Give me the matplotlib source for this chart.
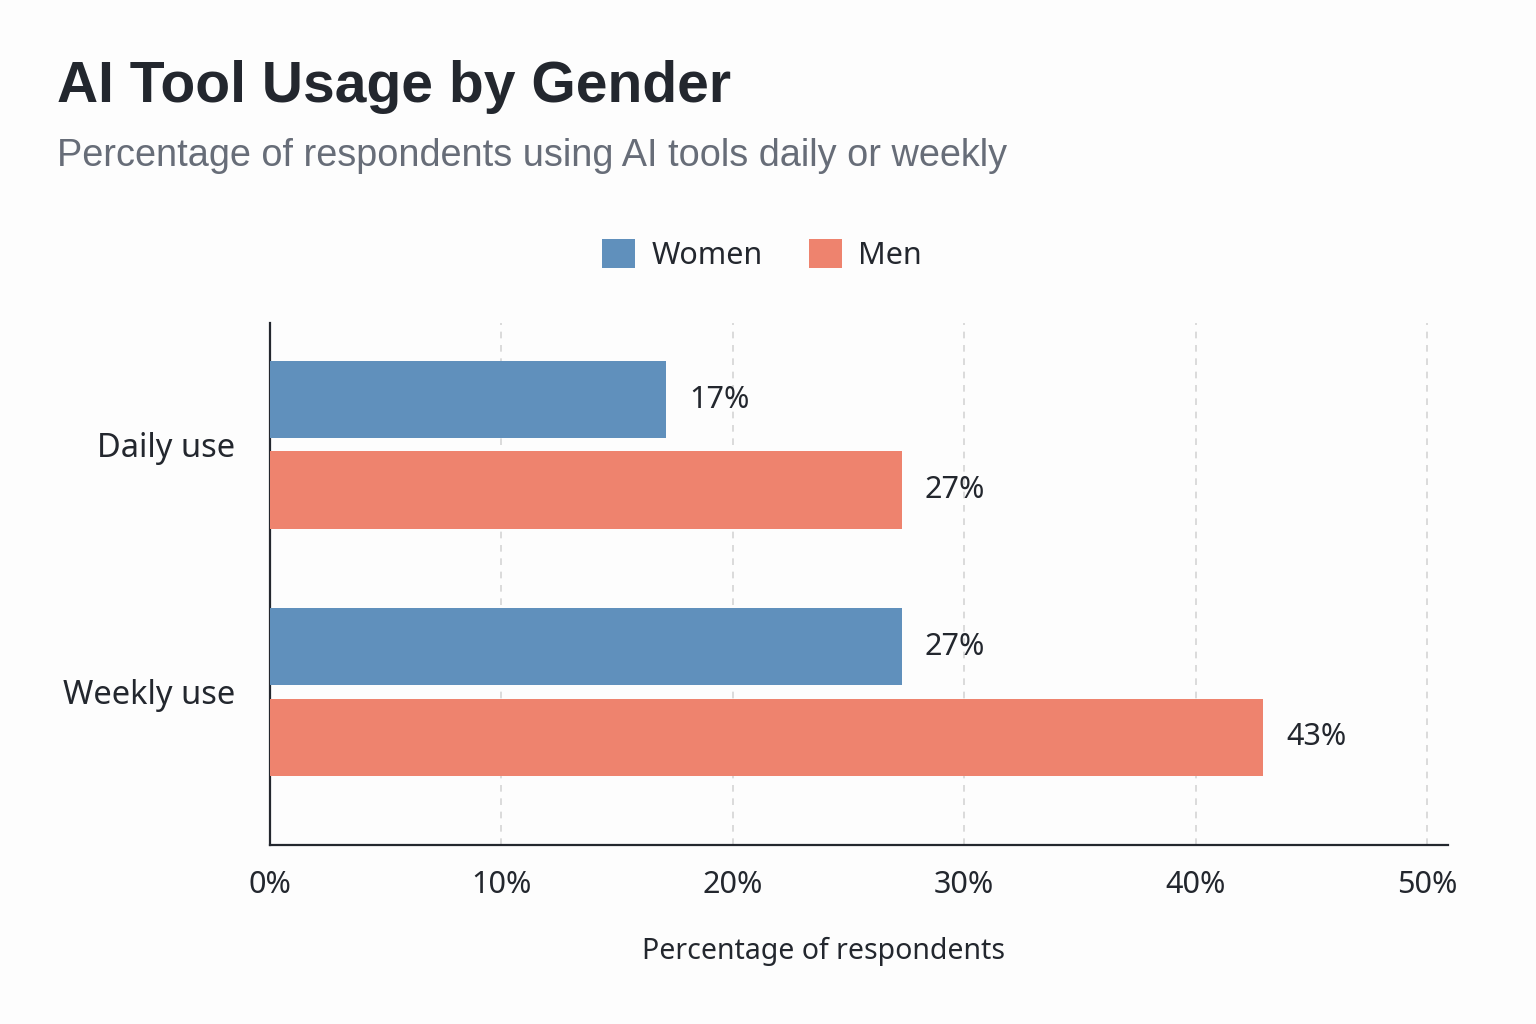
import numpy as np
import matplotlib.pyplot as plt
from matplotlib.patches import Patch

# datos
categories = ["Daily use", "Weekly use"]
women = [17.1, 27.3]
men = [27.3, 42.9]
series_names = ["Women", "Men"]
xticks = [0, 10, 20, 30, 40, 50]

blue = "#6090BC"
red = "#EE836E"
dark = "#23272E"
grey = "#676D78"
bg = "#FDFDFD"

plt.rcParams['font.family'] = ['Noto Sans', 'DejaVu Sans']

fig = plt.figure(figsize=(15.36, 10.24), dpi=100)
fig.patch.set_facecolor(bg)
ax = fig.add_axes([270/1536, 1 - 845/1024, (1448-270)/1536, (845-323)/1024])
ax.set_facecolor(bg)

y = np.arange(len(categories))
h = 0.312
off = 0.183
ax.barh(y - off, women, height=h, color=blue, zorder=3)
ax.barh(y + off, men, height=h, color=red, zorder=3)

# etiquetas de valor
for yy, v in zip(y - off, women):
    ax.text(v + 1.0, yy, f"{v:.0f}%", va='center', ha='left', fontsize=22, color=dark)
for yy, v in zip(y + off, men):
    ax.text(v + 1.0, yy, f"{v:.0f}%", va='center', ha='left', fontsize=22, color=dark)

ax.set_xlim(0, 50.9)
ax.set_ylim(1.62, -0.493)
ax.set_yticks(y)
ax.set_yticklabels(categories, fontsize=23.5, color=dark)
ax.set_xticks(xticks)
ax.set_xticklabels([f"{t}%" for t in xticks], fontsize=22, color=dark)
ax.tick_params(axis='y', length=0, pad=25)
ax.tick_params(axis='x', length=0, pad=18)

for t in xticks[1:]:
    ax.axvline(t, color="#D5D5D5", lw=1.2, ls=(0, (4, 4)), zorder=1)

for s in ['top', 'right']:
    ax.spines[s].set_visible(False)
for s in ['left', 'bottom']:
    ax.spines[s].set_color(dark)
    ax.spines[s].set_linewidth(1.6)

fig.text(824/1536, 1 - 959/1024, "Percentage of respondents", ha='center', va='baseline',
         fontsize=20.5, color=dark)

fig.text(57/1536, 1 - 102/1024, "AI Tool Usage by Gender", ha='left', va='baseline',
         fontsize=41, fontweight='bold', color=dark, family=['Liberation Sans', 'DejaVu Sans'])
fig.text(57/1536, 1 - 166/1024, "Percentage of respondents using AI tools daily or weekly",
         ha='left', va='baseline', fontsize=27.3, color=grey, family=['Liberation Sans', 'DejaVu Sans'])

handles = [Patch(facecolor=blue, label=series_names[0]), Patch(facecolor=red, label=series_names[1])]
fig.legend(handles=handles, loc='center', bbox_to_anchor=(762/1536, 1 - 255/1024), ncol=2,
           frameon=False, fontsize=22, handlelength=1.08, handleheight=1.08,
           handletextpad=0.55, columnspacing=1.5, labelcolor=dark)

fig.savefig("out.png", dpi=100, facecolor=bg)
